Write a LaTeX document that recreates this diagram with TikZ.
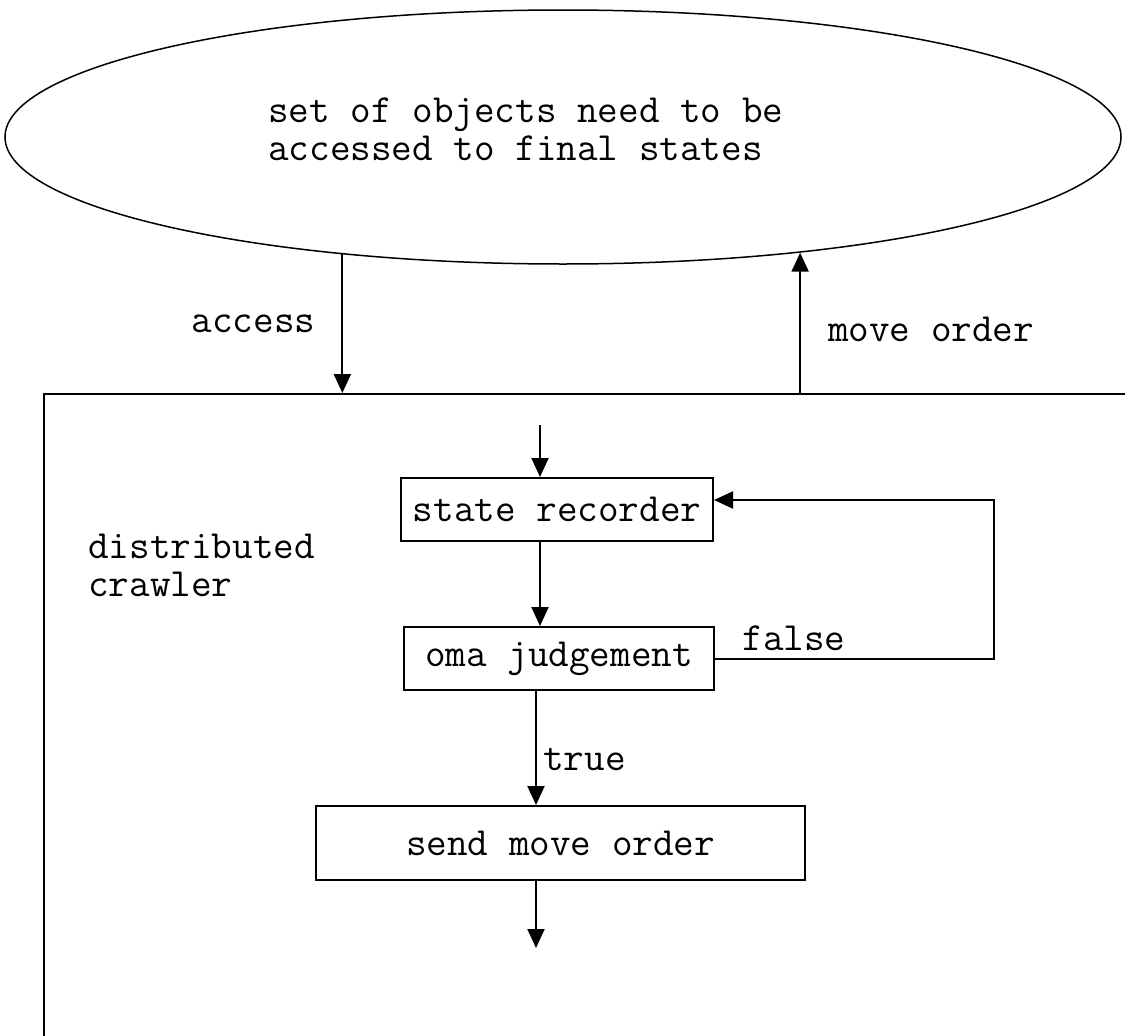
\documentclass[tikz,border=0pt]{standalone}
\usetikzlibrary{shapes.geometric,arrows.meta}
\begin{document}
\begin{tikzpicture}[x=1pt,y=-1pt,
  every node/.style={font=\ttfamily\fontsize{40}{38}\selectfont, inner sep=0pt},
  box/.style={draw, line width=2pt, rectangle},
  arr/.style={line width=2pt, -{Triangle[width=17pt,length=19pt]}},
  lbl/.style={text=black}]
\useasboundingbox (0,0) rectangle (1125,1036);
\clip (0,0) rectangle (1125,1036);

% object set
\node[draw, ellipse, line width=1.5pt, minimum width=1116pt, minimum height=254pt] (set) at (563,137) {};
\node[anchor=west, align=left] (settext) at (268,129) {set of objects need to be\\accessed to final states};

% crawler frame (runs past the right and bottom edges)
\node[box, anchor=north west, minimum width=1200pt, minimum height=700pt] (crawler) at (43,393) {};
\node[anchor=west, align=left] (crawlertext) at (88,565) {distributed\\crawler};

% connectors between object set and crawler
\draw[arr] (set.-152.1) -- (set.-152.1 |- crawler.north)
  node[lbl, pos=0.5, left=26pt] {access};
\draw[arr] (set.-26.55 |- crawler.north) -- (set.-26.55)
  node[lbl, pos=0.45, right=27pt] {move order};

% flow inside the crawler
\node[box, minimum width=312pt, minimum height=63pt] (rec) at (557,509.5) {state recorder};
\node[box, minimum width=310pt, minimum height=63pt] (oma) at (559,658.5) {oma judgement};
\node[box, minimum width=489pt, minimum height=74pt] (send) at (560.5,843) {send move order};

\coordinate (inlet) at (540,425);
\coordinate (outlet) at (536,948);
\coordinate (loop) at (994,500);

\draw[arr] (inlet) -- (inlet |- rec.north);
\draw[arr] (inlet |- rec.south) -- (inlet |- oma.north);
\draw[arr] (oma.east) -| (loop) -- ([yshift=9.5pt]rec.east);
\node[lbl] (falselbl) at (794,638) {false};
\draw[arr] (outlet |- oma.south) -- (outlet |- send.north);
\node[lbl, anchor=west] (truelbl) at (543,760) {true};
\draw[arr] (outlet |- send.south) -- (outlet);
\end{tikzpicture}
\end{document}
